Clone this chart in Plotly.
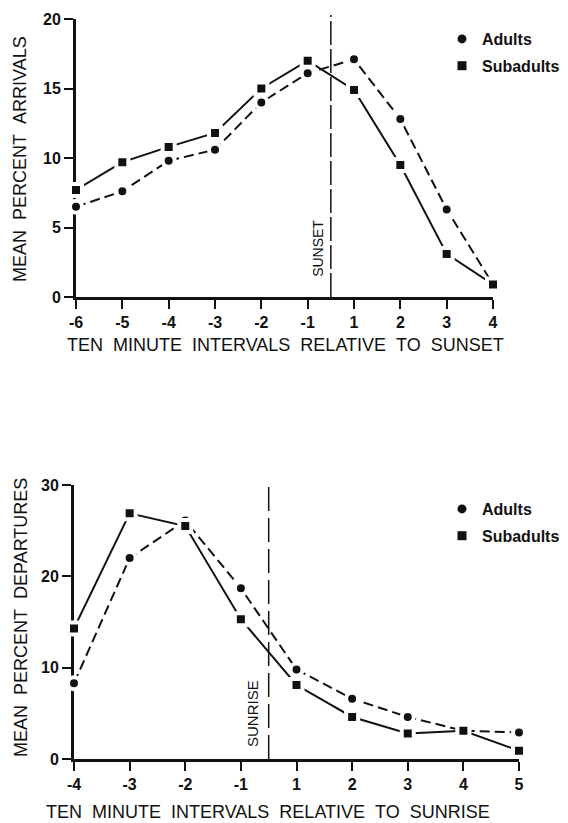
import plotly.graph_objects as go

# arrivals, relative to sunset (ten minute intervals, no zero interval)
sunset_intervals = ["-6", "-5", "-4", "-3", "-2", "-1", "1", "2", "3", "4"]
arrivals_adults = [6.5, 7.6, 9.8, 10.6, 14.0, 16.1, 17.1, 12.8, 6.3, 0.9]
arrivals_subadults = [7.7, 9.7, 10.8, 11.8, 15.0, 17.0, 14.9, 9.5, 3.1, 0.9]

# departures, relative to sunrise
sunrise_intervals = ["-4", "-3", "-2", "-1", "1", "2", "3", "4", "5"]
departures_adults = [8.3, 22.0, 26.1, 18.7, 9.8, 6.6, 4.6, 3.1, 2.9]
departures_subadults = [14.3, 26.9, 25.5, 15.3, 8.1, 4.6, 2.8, 3.1, 0.9]

# the page body keeps its default 8px margin, so the figure is drawn 8px in
OFF = 8
W, H = 568 - OFF, 823 - OFF
FONT = "Liberation Sans"
BLACK = "#111111"


def px_x(p):
    return (p - OFF) / W


def px_y(p):
    return 1 - (p - OFF) / H


def series(x, y, name, symbol, dash, xa, ya):
    return go.Scatter(
        x=x, y=y, name=name, mode="lines+markers",
        line={"color": BLACK, "width": 2, "dash": dash},
        marker={"symbol": symbol, "size": 12, "color": BLACK,
                "line": {"color": "white", "width": 4}},
        cliponaxis=False, showlegend=False, xaxis=xa, yaxis=ya,
    )


def legend_entry(name, symbol, legend):
    return go.Scatter(
        x=[None], y=[None], name=name, mode="markers", legend=legend,
        legendgroup=legend + name,
        marker={"symbol": symbol, "size": 9, "color": BLACK},
    )


fig = go.Figure()
fig.add_trace(series(sunset_intervals, arrivals_adults, "Adults", "circle", "10px,5px", "x", "y"))
fig.add_trace(series(sunset_intervals, arrivals_subadults, "Subadults", "square", "solid", "x", "y"))
fig.add_trace(series(sunrise_intervals, departures_adults, "Adults", "circle", "10px,5px", "x2", "y2"))
fig.add_trace(series(sunrise_intervals, departures_subadults, "Subadults", "square", "solid", "x2", "y2"))
for leg in ("legend", "legend2"):
    fig.add_trace(legend_entry("Adults", "circle", leg))
    fig.add_trace(legend_entry("Subadults", "square", leg))

axis_style = dict(
    showline=True, linewidth=3, linecolor=BLACK, showgrid=False, zeroline=False,
    ticks="outside", ticklen=9, tickwidth=2, tickcolor=BLACK, layer="below traces",
    automargin=False,
    tickfont={"family": FONT, "size": 16, "color": BLACK, "weight": "bold"},
)

legend_style = dict(xanchor="left", yanchor="top", bgcolor="rgba(0,0,0,0)",
                    tracegroupgap=3,
                    font={"family": FONT, "size": 16, "color": BLACK, "weight": "bold"})

fig.update_layout(
    width=W, height=H,
    paper_bgcolor="white", plot_bgcolor="white",
    margin={"l": 0, "r": 0, "t": 0, "b": 0, "autoexpand": False},
    xaxis=dict(axis_style, type="category", range=[0, 9],
               domain=[px_x(76), px_x(493)], anchor="y"),
    yaxis=dict(axis_style, range=[0, 20], tickvals=[0, 5, 10, 15, 20],
               domain=[px_y(297), px_y(19)], anchor="x"),
    xaxis2=dict(axis_style, type="category", range=[0, 8],
                domain=[px_x(74), px_x(519)], anchor="y2"),
    yaxis2=dict(axis_style, range=[0, 30], tickvals=[0, 10, 20, 30],
                domain=[px_y(759), px_y(485)], anchor="x2"),
    legend=dict(legend_style, x=px_x(442), y=px_y(22)),
    legend2=dict(legend_style, x=px_x(442), y=px_y(492)),
)

# sunset / sunrise markers
fig.add_shape(type="line", xref="x", yref="paper", x0=5.5, x1=5.5,
              y0=px_y(297), y1=px_y(15),
              line={"color": BLACK, "width": 1.5, "dash": "24px,4px"})
fig.add_shape(type="line", xref="x2", yref="paper", x0=3.5, x1=3.5,
              y0=px_y(759), y1=px_y(485),
              line={"color": BLACK, "width": 1.5, "dash": "24px,7px"})

nb = "\u00a0"
title_font = {"family": FONT, "size": 18, "color": BLACK}
ann = [
    dict(text="SUNSET", x=5.22, xref="x", y=px_y(248), yref="paper",
         textangle=-90, font={"family": FONT, "size": 14, "color": BLACK}),
    dict(text="SUNRISE", x=3.2, xref="x2", y=px_y(714), yref="paper",
         textangle=-90, font={"family": FONT, "size": 15, "color": BLACK}),
    dict(text=f"TEN{nb}{nb}MINUTE{nb}{nb}INTERVALS{nb}{nb}RELATIVE{nb}{nb}TO{nb}{nb}SUNSET",
         x=px_x(285), y=px_y(345), xref="paper", yref="paper", font=title_font),
    dict(text=f"TEN{nb}{nb}MINUTE{nb}{nb}INTERVALS{nb}{nb}RELATIVE{nb}{nb}TO{nb}{nb}SUNRISE",
         x=px_x(268), y=px_y(812), xref="paper", yref="paper", font=title_font),
    dict(text=f"MEAN{nb}{nb}PERCENT{nb}{nb}ARRIVALS", x=px_x(20), y=px_y(159),
         xref="paper", yref="paper", textangle=-90, font=title_font),
    dict(text=f"MEAN{nb}{nb}PERCENT{nb}{nb}DEPARTURES", x=px_x(21), y=px_y(618),
         xref="paper", yref="paper", textangle=-90, font=title_font),
]
for a in ann:
    fig.add_annotation(showarrow=False, xanchor="center", yanchor="middle", **a)

fig.write_html("out.html")
